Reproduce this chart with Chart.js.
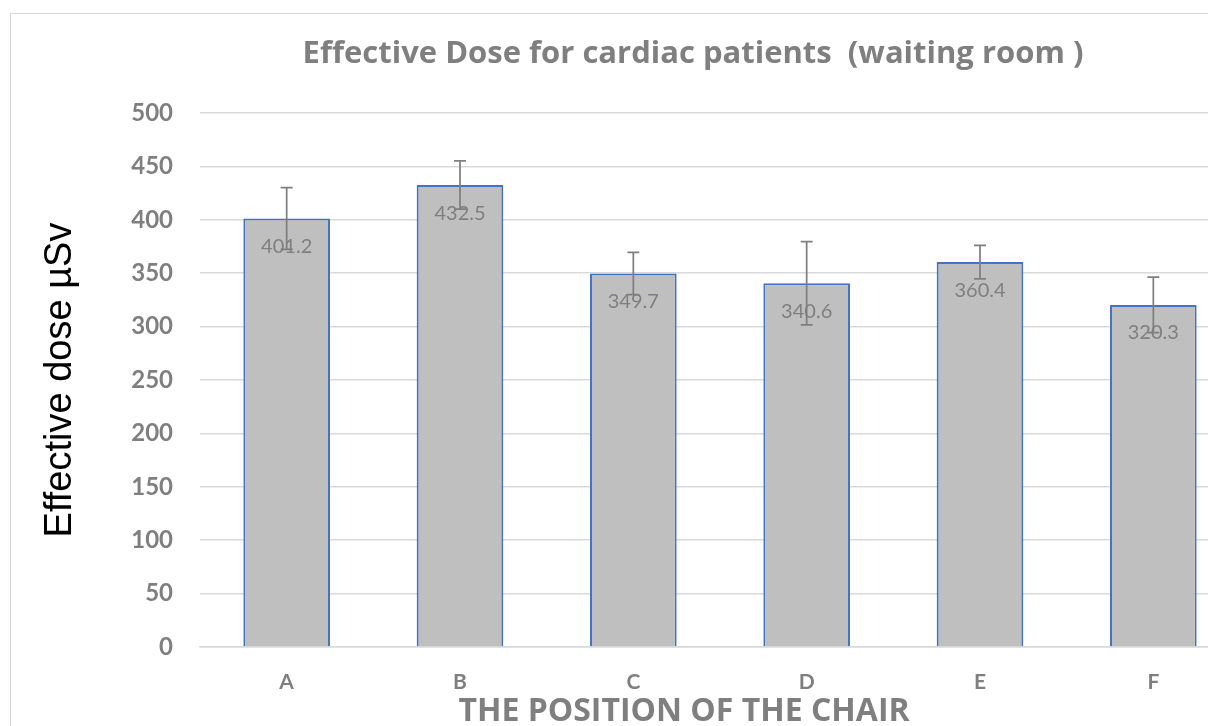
<!DOCTYPE html>
<html>
<head>
<meta charset="utf-8">
<title>Effective Dose for cardiac patients (waiting room)</title>
<script src="https://cdn.jsdelivr.net/npm/chart.js@4"></script>
<style>
  html, body { margin: 0; padding: 0; background: #fff; overflow: hidden; }
  #frame {
    position: absolute; left: 10px; top: 13px;
    width: 1400px; height: 760px;
    border-left: 1px solid #d9d9d9; border-top: 1px solid #d9d9d9;
  }
  #doseChart { display: block; }
</style>
</head>
<body>
<div id="frame">
  <canvas id="doseChart" width="1350" height="712"></canvas>
</div>
<script>
const positions = ['A', 'B', 'C', 'D', 'E', 'F'];
const doseValues = [401.2, 432.5, 349.7, 340.6, 360.4, 320.3];
const doseErrors = [29, 22.6, 19.8, 38.9, 15.7, 26];
const yTicks = [0, 50, 100, 150, 200, 250, 300, 350, 400, 450, 500];

const chartTitle = 'Effective Dose for cardiac patients  (waiting room )';
const xTitle = 'THE POSITION OF THE CHAIR';
const yTitle = 'Effective dose µSv';

const GRAY = '#7f7f7f';

// error bars drawn on top of the bars
const errorBarPlugin = {
    id: 'errorBars',
    afterDatasetsDraw(chart) {
        const ctx = chart.ctx;
        const yScale = chart.scales.y;
        const meta = chart.getDatasetMeta(0);
        ctx.save();
        ctx.strokeStyle = GRAY;
        ctx.lineWidth = 1.75;
        meta.data.forEach((bar, i) => {
            const v = doseValues[i];
            const e = doseErrors[i];
            const yTop = yScale.getPixelForValue(v + e);
            const yBot = yScale.getPixelForValue(v - e);
            ctx.beginPath();
            ctx.moveTo(bar.x, yTop);
            ctx.lineTo(bar.x, yBot);
            ctx.moveTo(bar.x - 6, yTop);
            ctx.lineTo(bar.x + 6, yTop);
            ctx.moveTo(bar.x - 6, yBot);
            ctx.lineTo(bar.x + 6, yBot);
            ctx.stroke();
        });
        ctx.restore();
    }
};

// value labels just inside the top of each bar
const valueLabelPlugin = {
    id: 'valueLabels',
    afterDatasetsDraw(chart) {
        const ctx = chart.ctx;
        const meta = chart.getDatasetMeta(0);
        ctx.save();
        ctx.fillStyle = GRAY;
        ctx.font = '20px Lato';
        ctx.textAlign = 'center';
        ctx.textBaseline = 'middle';
        meta.data.forEach((bar, i) => {
            ctx.fillText(doseValues[i].toFixed(1), bar.x, bar.y + 28);
        });
        ctx.restore();
    }
};

// chart title and x axis title are centred on the whole frame (as in the Excel original),
// not on the plot area, so they are drawn here
const outerTitlesPlugin = {
    id: 'outerTitles',
    afterDraw(chart) {
        const ctx = chart.ctx;
        ctx.save();
        ctx.fillStyle = GRAY;
        ctx.textAlign = 'center';
        ctx.textBaseline = 'alphabetic';
        ctx.font = 'bold 31px "Open Sans"';
        ctx.fillText(chartTitle, 682, 49);
        ctx.font = 'bold 32px "Open Sans"';
        ctx.fillText(xTitle, 673, 707);
        ctx.restore();
    }
};

function drawChart() {
    const ctx = document.getElementById('doseChart').getContext('2d');
    new Chart(ctx, {
        type: 'bar',
        data: {
            labels: positions,
            datasets: [{
                label: 'Effective dose',
                data: doseValues,
                backgroundColor: '#bfbfbf',
                borderColor: '#4472c4',
                borderWidth: 2,
                categoryPercentage: 1,
                barPercentage: 0.5
            }]
        },
        options: {
            responsive: false,
            animation: false,
            layout: { padding: { left: 0, right: 121, top: 99, bottom: 0 } },
            scales: {
                y: {
                    min: 0,
                    max: 500,
                    afterBuildTicks: axis => { axis.ticks = yTicks.map(v => ({ value: v })); },
                    afterFit: axis => { axis.width = 189; },
                    grid: { color: '#d9d9d9', lineWidth: 1.5, drawTicks: false },
                    border: { display: false },
                    ticks: {
                        color: GRAY,
                        padding: 27,
                        font: { family: 'Lato', size: 24, weight: 'bold' }
                    },
                    title: {
                        display: true,
                        text: yTitle,
                        color: '#000',
                        padding: { top: 27, bottom: 0 },
                        font: { family: 'Liberation Sans', size: 38 }
                    }
                },
                x: {
                    afterFit: axis => { axis.height = 79; },
                    grid: { display: false, drawTicks: false },
                    border: { display: true, color: '#d9d9d9', width: 1.5 },
                    ticks: {
                        color: GRAY,
                        padding: 23,
                        font: { family: 'Lato', size: 21, weight: 'bold' }
                    }
                }
            },
            plugins: {
                legend: { display: false },
                tooltip: { enabled: false },
                title: { display: false }
            }
        },
        plugins: [errorBarPlugin, valueLabelPlugin, outerTitlesPlugin]
    });
}

Promise.all([
    document.fonts.load('bold 30px Lato'),
    document.fonts.load('20px Lato'),
    document.fonts.load('bold 30px "Open Sans"'),
    document.fonts.load('38px "Liberation Sans"')
]).then(drawChart, drawChart);
</script>
</body>
</html>
